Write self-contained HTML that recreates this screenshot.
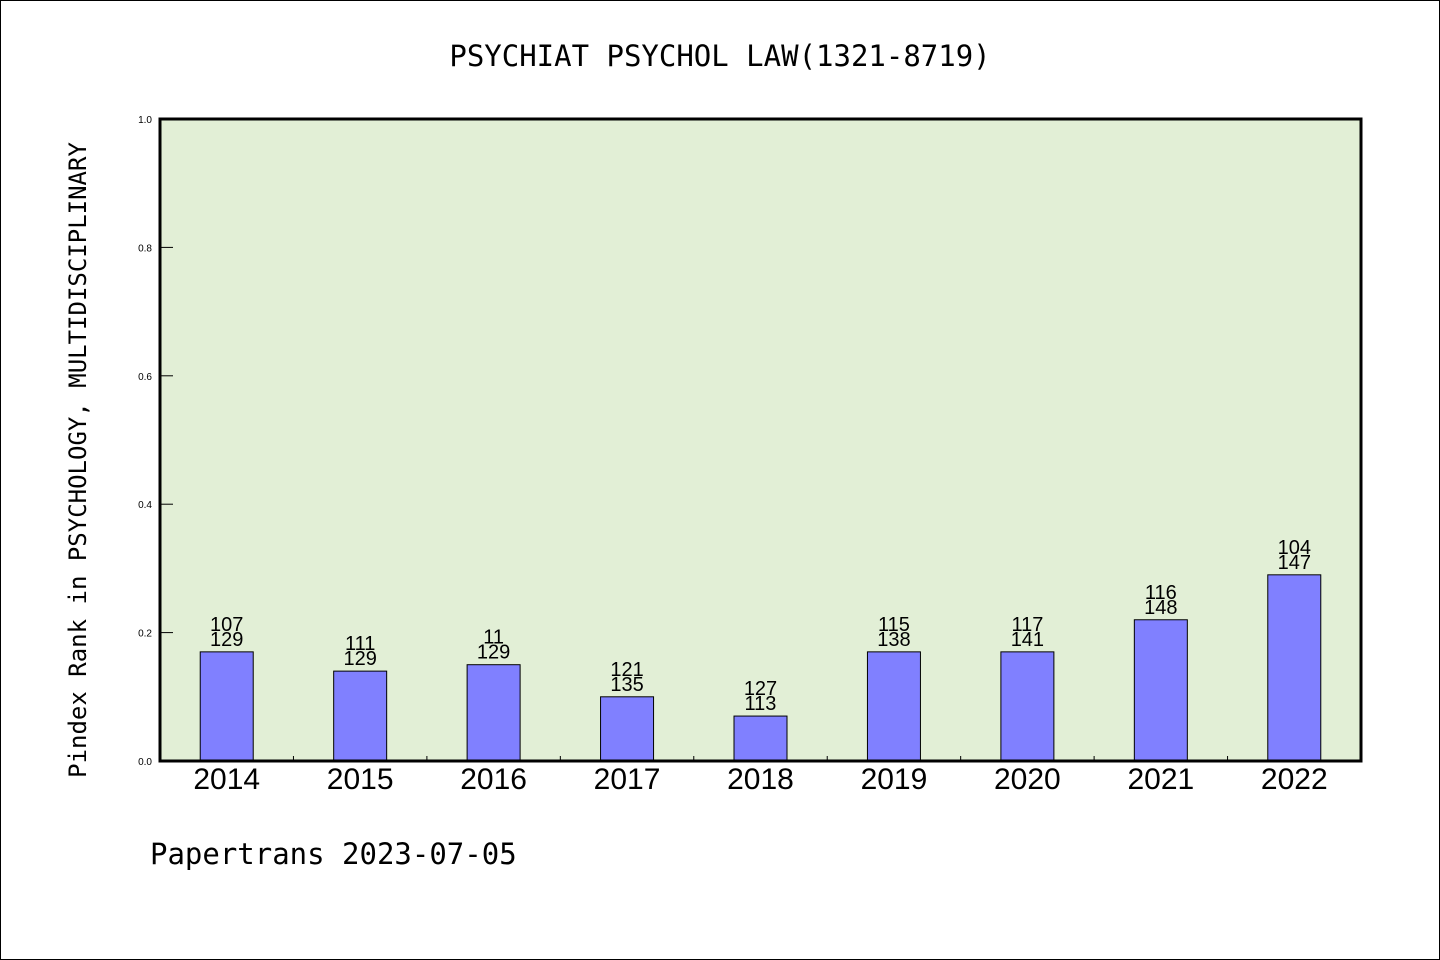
<!DOCTYPE html>
<html><head><meta charset="utf-8"><style>
body{margin:0;background:#fff}
svg{display:block}
</style></head><body>
<svg width="1440" height="960" xmlns="http://www.w3.org/2000/svg">
<rect x="0.5" y="0.5" width="1439" height="959" fill="#fff" stroke="#000"/>
<text x="720" y="66" text-anchor="middle" font-family="'DejaVu Sans Mono','Liberation Mono',monospace" font-size="29">PSYCHIAT PSYCHOL LAW(1321-8719)</text>
<rect x="160" y="119" width="1201" height="642" fill="#e2efd6"/>
<g id="g"></g>
<rect x="160" y="119" width="1201" height="642" fill="none" stroke="#000" stroke-width="3"/>
<text transform="translate(86,460) rotate(-90)" text-anchor="middle" font-family="'DejaVu Sans Mono','Liberation Mono',monospace" font-size="24">Pindex Rank in PSYCHOLOGY, MULTIDISCIPLINARY</text>
<text x="150" y="864" font-family="'DejaVu Sans Mono','Liberation Mono',monospace" font-size="29">Papertrans 2023-07-05</text>
</svg>
<script>
const categories=["2014","2015","2016","2017","2018","2019","2020","2021","2022"];
const values=[0.17,0.14,0.15,0.10,0.07,0.17,0.17,0.22,0.29];
const topLabels=["107","111","11","121","127","115","117","116","104"];
const bottomLabels=["129","129","129","135","113","138","141","148","147"];
const yTicks=[0,0.2,0.4,0.6,0.8,1.0];
const L=160,R=1361,T=119,B=761;
const y=v=>B-v*(B-T);
const bw=(R-L)/categories.length;
const x=i=>L+(i+0.5)*bw;
const g=document.getElementById('g');
const NS='http://www.w3.org/2000/svg';
function mk(t,a){const e=document.createElementNS(NS,t);for(const k in a)e.setAttribute(k,a[k]);g.appendChild(e);return e;}
yTicks.forEach(v=>{
  const l=mk('line',{x1:L,x2:L+13,y1:y(v),y2:y(v),stroke:'#000','stroke-width':1});
  
  
  const t=mk('text',{x:152,y:y(v)+4,'text-anchor':'end','font-family':'Liberation Sans,sans-serif','font-size':10});
  t.textContent=v.toFixed(1);
  
  
});
for(let i=1;i<categories.length;i++){
  const l=mk('line',{x1:L+i*bw,x2:L+i*bw,y1:B,y2:B-5,stroke:'#000','stroke-width':1});
  
  
}
categories.forEach((c,i)=>{
  const cx=x(i),w=53,top=y(values[i]);
  const r=mk('rect',{x:cx-w/2,y:top,width:w,height:B-top,fill:'#8080ff',stroke:'#000','stroke-width':1});
  
  
  const t1=mk('text',{x:cx,y:top-21,'text-anchor':'middle','font-family':'Liberation Sans Narrow,Liberation Sans,sans-serif','font-size':20});
  t1.textContent=topLabels[i];
  
  
  const t2=mk('text',{x:cx,y:top-6,'text-anchor':'middle','font-family':'Liberation Sans Narrow,Liberation Sans,sans-serif','font-size':20});
  t2.textContent=bottomLabels[i];
  
  
  const xl=mk('text',{x:cx,y:789,'text-anchor':'middle','font-family':'Liberation Sans,sans-serif','font-size':30});
  xl.textContent=c;
  
  
});
</script>
</body></html>
